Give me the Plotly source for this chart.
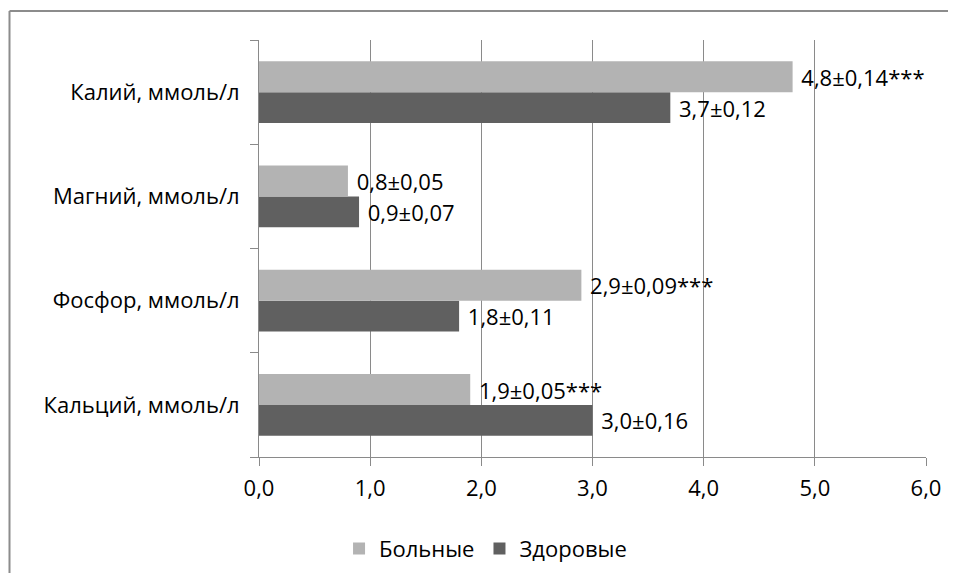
import plotly.graph_objects as go

categories = ["Кальций, ммоль/л", "Фосфор, ммоль/л", "Магний, ммоль/л", "Калий, ммоль/л"]
sick_values = [1.9, 2.9, 0.8, 4.8]
healthy_values = [3.0, 1.8, 0.9, 3.7]
sick_labels = ["1,9±0,05***", "2,9±0,09***", "0,8±0,05", "4,8±0,14***"]
healthy_labels = ["3,0±0,16", "1,8±0,11", "0,9±0,07", "3,7±0,12"]
x_ticks = [0, 1, 2, 3, 4, 5, 6]

FONT = "Open Sans"
FS = 22
W, H = 940, 565
L, R, T, B = 251, 22, 32, 116
pw, ph = W - L - R, H - T - B

fig = go.Figure()
fig.add_trace(go.Bar(
    y=categories, x=healthy_values, orientation="h", name="Здоровые",
    marker=dict(color="#606060", line=dict(width=0)),
    text=healthy_labels, texttemplate="\u00a0%{text}", textposition="outside", cliponaxis=False,
    textfont=dict(family=FONT, size=FS, color="#000000"), legendrank=2,
))
fig.add_trace(go.Bar(
    y=categories, x=sick_values, orientation="h", name="Больные",
    marker=dict(color="#B3B3B3", line=dict(width=0)),
    text=sick_labels, texttemplate="\u00a0%{text}", textposition="outside", cliponaxis=False,
    textfont=dict(family=FONT, size=FS, color="#000000"), legendrank=1,
))

fig.update_layout(
    width=W, height=H,
    margin=dict(l=L, r=R, t=T, b=B, autoexpand=False),
    paper_bgcolor="white", plot_bgcolor="white",
    barmode="group", bargap=0.41, bargroupgap=0,
    separators=", ",
    font=dict(family=FONT, size=FS, color="#000000"),
    showlegend=True,
    legend=dict(orientation="h", x=0.12, xanchor="left", y=-0.22, yanchor="middle",
                font=dict(family=FONT, size=FS, color="#000000"),
                itemwidth=30, traceorder="normal"),
    xaxis=dict(range=[0, 6], tickvals=x_ticks, tickformat=".1f",
               showgrid=True, gridcolor="#8A8A8A", gridwidth=1,
               showline=True, linecolor="#8A8A8A", linewidth=1,
               ticks="outside", ticklen=8, tickcolor="#8A8A8A",
               ticklabelstandoff=4, zeroline=False,
               tickfont=dict(family=FONT, size=FS, color="#000000")),
    yaxis=dict(categoryorder="array", categoryarray=categories,
               showgrid=False, showline=True, linecolor="#8A8A8A", linewidth=1,
               ticks="outside", ticklen=8, tickcolor="#8A8A8A", tickson="boundaries",
               ticklabelstandoff=14,
               tickfont=dict(family=FONT, size=FS, color="#000000")),
)

# outer frame: only top and left edges are visible in the reference crop
fig.add_shape(type="line", xref="paper", yref="paper",
              x0=(1.5 - L) / pw, x1=(W + 50 - L) / pw,
              y0=(ph + T - 3) / ph, y1=(ph + T - 3) / ph,
              line=dict(color="#8C8C8C", width=2), layer="below")
fig.add_shape(type="line", xref="paper", yref="paper",
              x0=(1.5 - L) / pw, x1=(1.5 - L) / pw,
              y0=-(B + 50) / ph, y1=(ph + T - 3) / ph,
              line=dict(color="#8C8C8C", width=2), layer="below")

fig.write_html("out.html")
